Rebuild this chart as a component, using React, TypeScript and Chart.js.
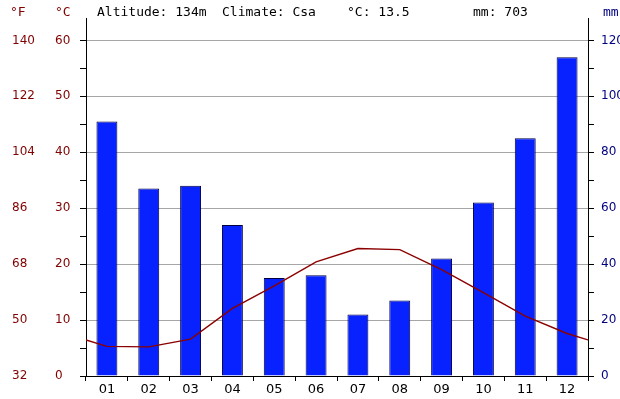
import { useEffect, useRef } from "react";
import { Chart, registerables } from "chart.js";

Chart.register(...registerables);

// Monthly climate normals
const months = ["01", "02", "03", "04", "05", "06", "07", "08", "09", "10", "11", "12"];
const precipitationMm = [91, 67, 68, 54, 35, 36, 22, 27, 42, 62, 85, 114];
const temperatureC = [5.3, 5.2, 6.6, 12.1, 16.1, 20.4, 22.8, 22.6, 19.0, 14.9, 10.7, 7.6];

// Axis tick values
const celsiusTicks = [0, 5, 10, 15, 20, 25, 30, 35, 40, 45, 50, 55, 60];
const fahrenheitTicks = [32, 50, 68, 86, 104, 122, 140];
const mmTicks = [0, 10, 20, 30, 40, 50, 60, 70, 80, 90, 100, 110, 120];

// Header texts
const headerTexts = ["°F", "°C", "Altitude: 134m", "Climate: Csa", "°C: 13.5", "mm: 703", "mm"];

const C_MAX = 64;
const DARK_RED = "#800000";
const NAVY = "#000080";

export default function App() {
  const canvasRef = useRef<HTMLCanvasElement | null>(null);

  useEffect(() => {
    const canvas = canvasRef.current;
    if (!canvas) return;

    // Temperature curve wraps around the year: the edges use the Dec/Jan mean.
    const edge = (temperatureC[0] + temperatureC[11]) / 2;
    const tempPoints = [
      { x: -0.5, y: edge },
      ...temperatureC.map((t, i) => ({ x: i, y: t })),
      { x: 11.5, y: edge },
    ];

    const headerPlugin = {
      id: "header",
      afterDraw(chart: Chart) {
        const ctx = chart.ctx;
        const xs = [10, 55, 97, 222, 347, 473, 603];
        const colors = [DARK_RED, DARK_RED, "#000", "#000", "#000", "#000", NAVY];
        ctx.save();
        ctx.font = "13px 'DejaVu Sans Mono', monospace";
        ctx.textBaseline = "middle";
        ctx.textAlign = "left";
        headerTexts.forEach((t, i) => {
          ctx.fillStyle = colors[i];
          ctx.fillText(t, xs[i], 13);
        });
        ctx.restore();
      },
    };

    const chart = new Chart(canvas, {
      type: "line",
      data: {
        labels: months,
        datasets: [
          {
            type: "bar",
            data: precipitationMm,
            xAxisID: "x",
            yAxisID: "yMM",
            backgroundColor: "#0722ff",
            borderColor: "#000040",
            borderWidth: 1,
            barPercentage: 0.5,
            categoryPercentage: 1,
            grouped: false,
            order: 1,
          },
          {
            type: "line",
            data: tempPoints as any,
            xAxisID: "xl",
            yAxisID: "yC",
            borderColor: "#8b0000",
            borderWidth: 1.4,
            pointRadius: 0,
            tension: 0,
            fill: false,
            order: 0,
          },
        ] as any,
      },
      options: {
        responsive: false,
        animation: false,
        layout: { padding: { left: 12, right: 0, top: 18, bottom: 0 } },
        plugins: { legend: { display: false }, tooltip: { enabled: false } },
        scales: {
          x: {
            type: "category",
            position: "bottom",
            offset: true,
            grid: {
              offset: true,
              drawOnChartArea: false,
              tickLength: 5,
              color: "#000",
              tickColor: "#000",
            },
            border: { display: true, color: "#000" },
            ticks: {
              color: "#000",
              font: { family: "'DejaVu Sans'", size: 13 },
              padding: 1,
              maxRotation: 0,
              autoSkip: false,
            },
            afterFit: (s: any) => {
              s.height = 23;
            },
          },
          xl: {
            type: "linear",
            axis: "x",
            display: false,
            offset: false,
            min: -0.5,
            max: 11.5,
          },
          yC: {
            type: "linear",
            position: "left",
            weight: 1,
            min: 0,
            max: C_MAX,
            afterBuildTicks: (s: any) => {
              s.ticks = celsiusTicks.map((v) => ({ value: v }));
            },
            ticks: {
              color: DARK_RED,
              font: { family: "'DejaVu Sans'", size: 12 },
              crossAlign: "far",
              autoSkip: false,
              callback: (v: any) => (Number(v) % 10 === 0 ? String(v) : ""),
            },
            grid: {
              color: (ctx: any) =>
                ctx.tick && ctx.tick.value % 10 === 0 && ctx.tick.value > 0 ? "#a6a6a6" : "rgba(0,0,0,0)",
              tickColor: "#000",
              tickLength: 6,
              lineWidth: 1,
            },
            border: { display: true, color: "#000" },
            afterFit: (s: any) => {
              s.width = 31;
            },
          },
          yF: {
            type: "linear",
            position: "left",
            weight: 2,
            min: 32,
            max: 32 + 1.8 * C_MAX,
            afterBuildTicks: (s: any) => {
              s.ticks = fahrenheitTicks.map((v) => ({ value: v }));
            },
            ticks: {
              color: DARK_RED,
              font: { family: "'DejaVu Sans'", size: 12 },
              crossAlign: "far",
              autoSkip: false,
            },
            grid: { display: false, drawTicks: false },
            border: { display: false },
            afterFit: (s: any) => {
              s.width = 43;
            },
          },
          yMM: {
            type: "linear",
            position: "right",
            min: 0,
            max: C_MAX * 2,
            afterBuildTicks: (s: any) => {
              s.ticks = mmTicks.map((v) => ({ value: v }));
            },
            ticks: {
              color: NAVY,
              font: { family: "'DejaVu Sans'", size: 12 },
              padding: 7,
              autoSkip: false,
              callback: (v: any) => (Number(v) % 20 === 0 ? String(v) : ""),
            },
            grid: {
              drawOnChartArea: false,
              tickLength: 6,
              color: "#000",
              tickColor: "#000",
            },
            border: { display: true, color: "#000" },
            afterFit: (s: any) => {
              s.width = 32;
            },
          },
        } as any,
      },
      plugins: [headerPlugin],
    });

    return () => chart.destroy();
  }, []);

  return (
    <div style={{ position: "fixed", left: 0, top: 0, width: 620, height: 399, background: "#fff" }}>
      <canvas ref={canvasRef} width={620} height={399} style={{ display: "block" }} />
    </div>
  );
}
